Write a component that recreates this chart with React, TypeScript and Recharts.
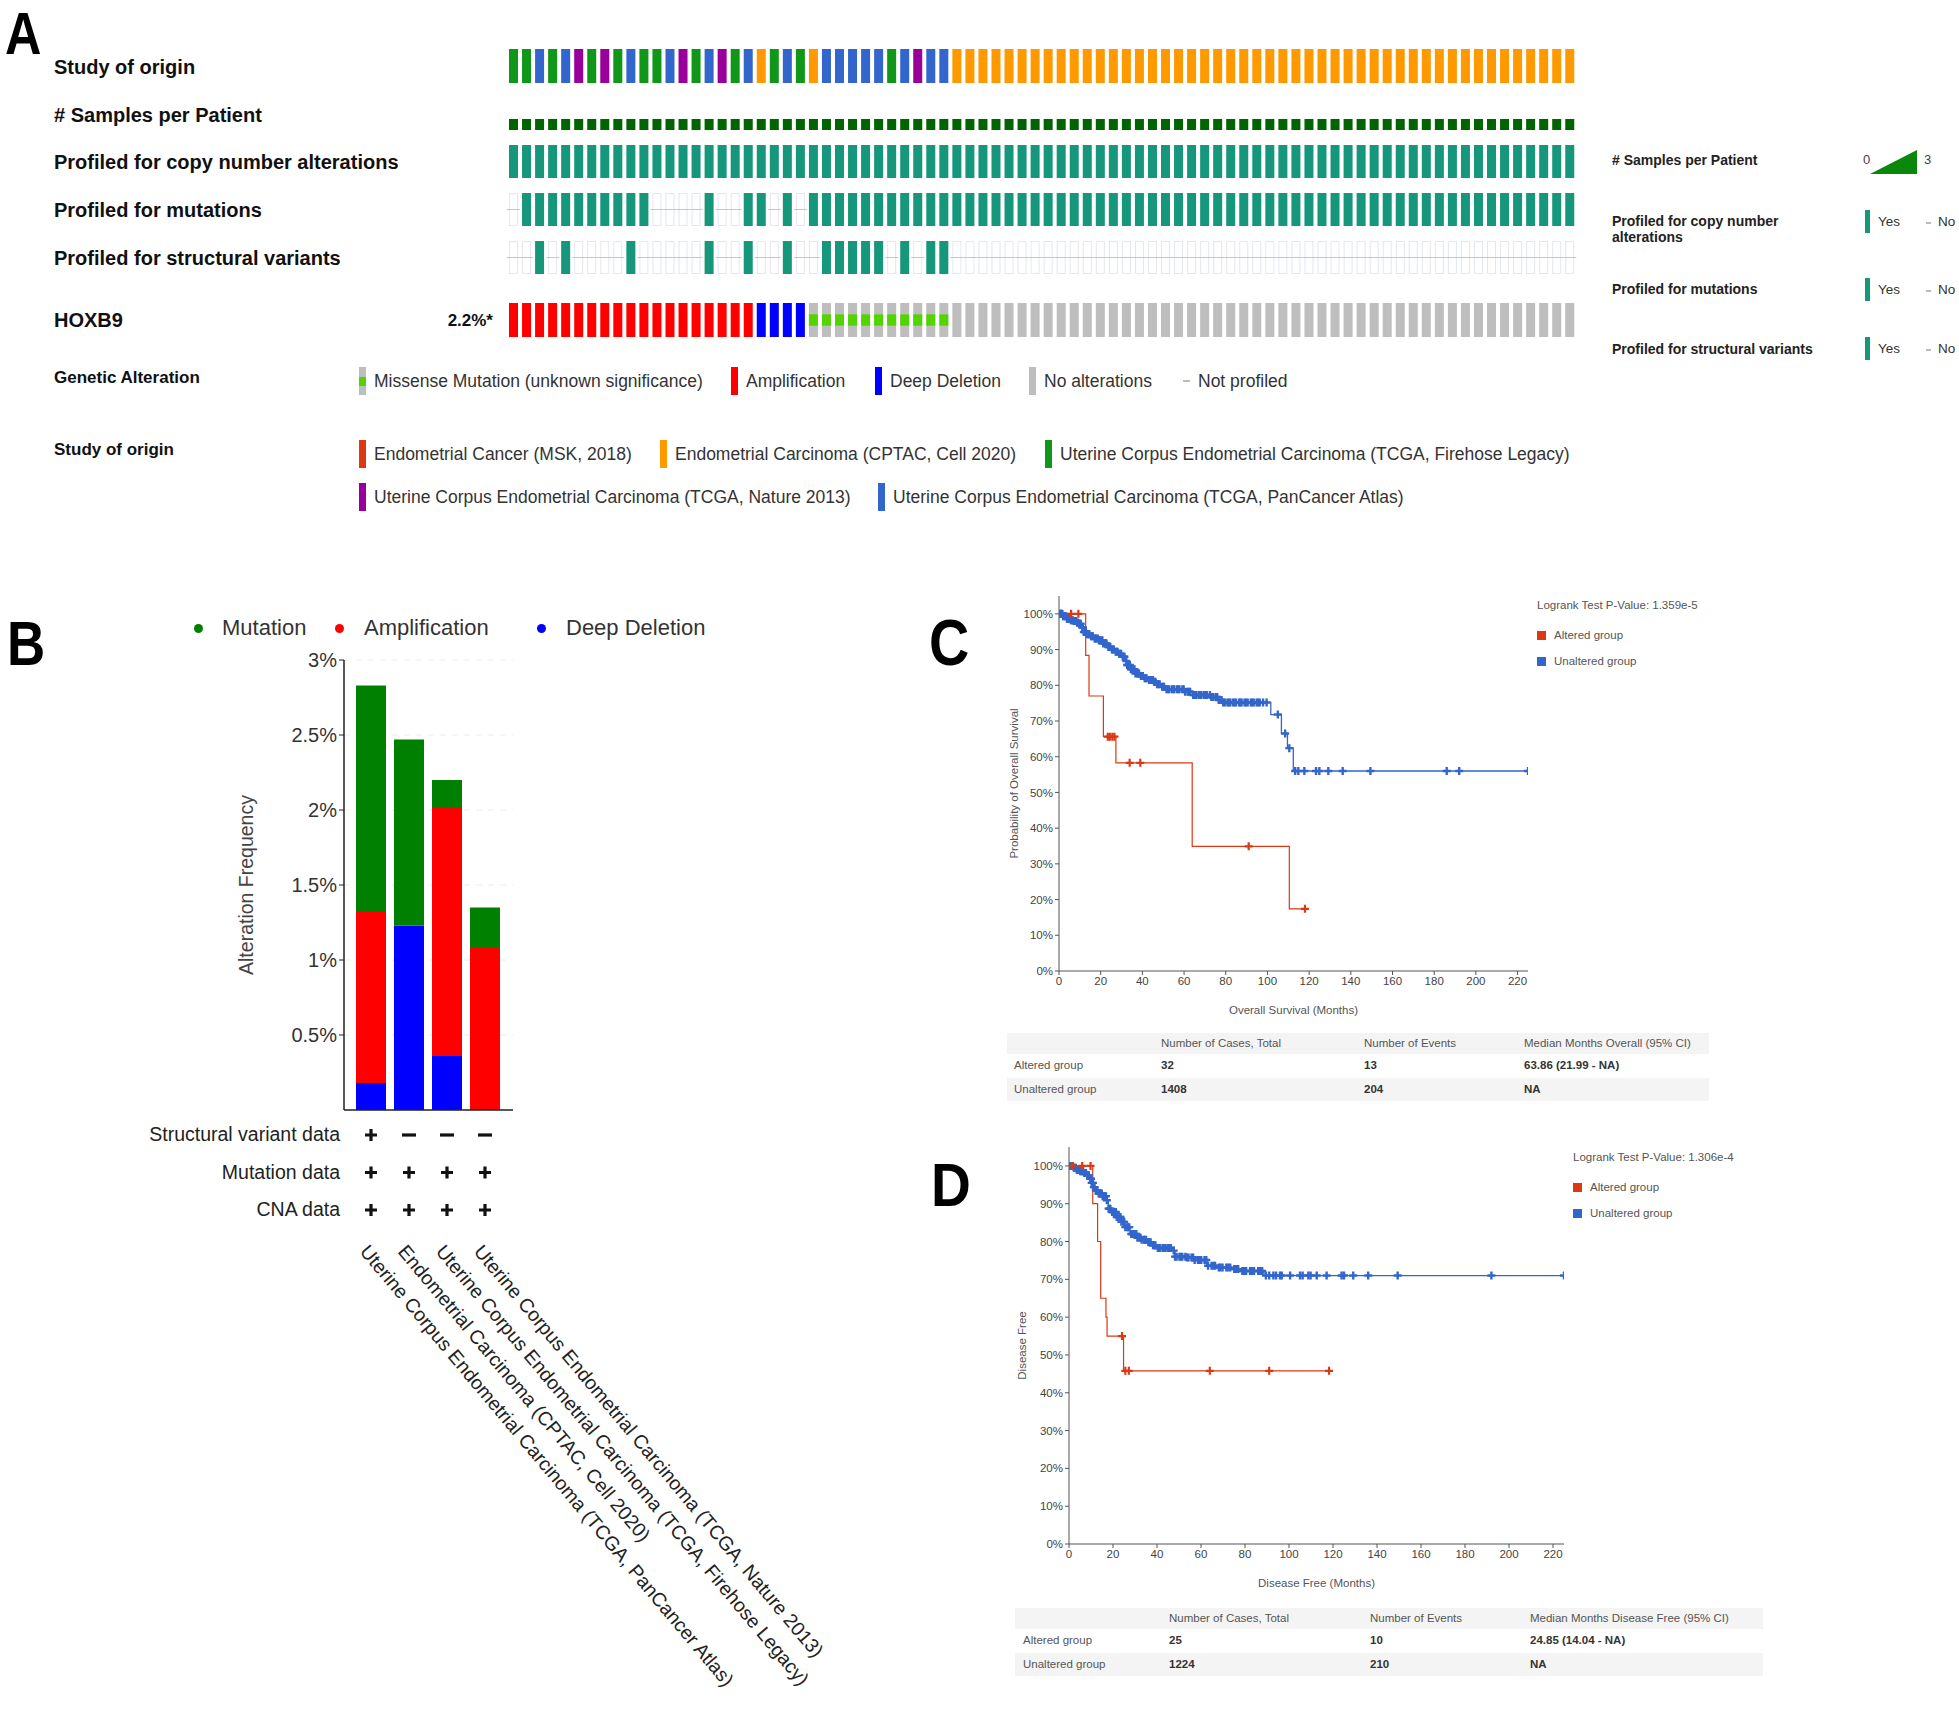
import React from 'react';
import { BarChart, Bar, XAxis, YAxis, CartesianGrid, ComposedChart, Line, Scatter } from 'recharts';

const FONT = '"Liberation Sans", Arial, Helvetica, sans-serif';

// ---------- A: oncoprint (82 columns, written in groups of 10) ----------
const studyOfOrigin = ['GGBGBPGPGB', 'GGBPGBPGBO', 'GBGOBBBBBG', 'BPBBOOOOOO', 'OOOOOOOOOO', 'OOOOOOOOOO', 'OOOOOOOOOO', 'OOOOOOOOOO', 'OO'].join('').split('');
const samplesPerPatient = ['1111111111', '1111111111', '1111111111', '1111111111', '1111111111', '1111111111', '1111111111', '1111111111', '11'].join('').split('');
const cnaProfiled = ['YYYYYYYYYY', 'YYYYYYYYYY', 'YYYYYYYYYY', 'YYYYYYYYYY', 'YYYYYYYYYY', 'YYYYYYYYYY', 'YYYYYYYYYY', 'YYYYYYYYYY', 'YY'].join('').split('');
const mutProfiled = ['NYYYYYYYYY', 'YNNNNYNNYY', 'NYNYYYYYYY', 'YYYYYYYYYY', 'YYYYYYYYYY', 'YYYYYYYYYY', 'YYYYYYYYYY', 'YYYYYYYYYY', 'YY'].join('').split('');
const svProfiled = ['NNYNYNNNNY', 'NNNNNYNNYN', 'NYNNYYYYYN', 'YNYYNNNNNN', 'NNNNNNNNNN', 'NNNNNNNNNN', 'NNNNNNNNNN', 'NNNNNNNNNN', 'NN'].join('').split('');
// A = amplification, D = deep deletion, M = missense (unknown significance), - = no alteration
const hoxb9 = ['AAAAAAAAAA', 'AAAAAAAAAD', 'DDDMMMMMMM', 'MMMM------', '----------', '----------', '----------', '----------', '--'].join('').split('');

const studyColors: Record<string, string> = { R: '#dc3912', O: '#ff9900', G: '#109618', P: '#990099', B: '#3366cc' };
const TEAL = '#16967a';
const GREY = '#bebebe';

const alterationLegend = [
  { kind: 'missense', label: 'Missense Mutation (unknown significance)', x: 359 },
  { kind: 'amp', label: 'Amplification', x: 731 },
  { kind: 'del', label: 'Deep Deletion', x: 875 },
  { kind: 'none', label: 'No alterations', x: 1029 },
  { kind: 'np', label: 'Not profiled', x: 1183 },
];
const studyLegend = [
  { code: 'R', label: 'Endometrial Cancer (MSK, 2018)', x: 359, row: 0 },
  { code: 'O', label: 'Endometrial Carcinoma (CPTAC, Cell 2020)', x: 660, row: 0 },
  { code: 'G', label: 'Uterine Corpus Endometrial Carcinoma (TCGA, Firehose Legacy)', x: 1045, row: 0 },
  { code: 'P', label: 'Uterine Corpus Endometrial Carcinoma (TCGA, Nature 2013)', x: 359, row: 1 },
  { code: 'B', label: 'Uterine Corpus Endometrial Carcinoma (TCGA, PanCancer Atlas)', x: 878, row: 1 },
];

// ---------- B: alteration frequency by study (%) ----------
const bStudies = [
  'Uterine Corpus Endometrial Carcinoma (TCGA, PanCancer Atlas)',
  'Endometrial Carcinoma (CPTAC, Cell 2020)',
  'Uterine Corpus Endometrial Carcinoma (TCGA, Firehose Legacy)',
  'Uterine Corpus Endometrial Carcinoma (TCGA, Nature 2013)',
];
const bDeepDeletion = [0.18, 1.23, 0.36, 0];
const bAmplification = [1.14, 0, 1.66, 1.08];
const bMutation = [1.51, 1.24, 0.18, 0.27];
const bSvData = ['+', '-', '-', '-'];
const bMutData = ['+', '+', '+', '+'];
const bCnaData = ['+', '+', '+', '+'];
const bTicks = [0.5, 1, 1.5, 2, 2.5, 3];

// ---------- C: overall survival ----------
const osAltered = [[0, 100], [12.8, 88.4], [14.4, 77], [21.3, 65.6], [27.3, 58.3], [63.9, 34.9], [110.5, 17.4], [118, 17.4]];
const osAlteredCensor = [5.8, 9.3, 23.4, 24.4, 25.6, 26.6, 33.9, 39, 91, 118];
const osUnaltered = [[0, 100], [2, 99.3], [3.7, 98.6], [5.5, 98.2], [6.9, 98], [8.5, 97.5], [9.3, 97.2], [10.5, 96.2], [11.7, 94.9], [13, 94.3], [14.9, 93.7], [17, 93.1], [18.9, 92.6], [21, 91.7], [23, 90.7], [25, 90], [27, 89.4], [28.5, 88.8], [30.2, 88], [31.5, 86.8], [32.6, 85.7], [34.5, 84.5], [36.6, 83.3], [38.5, 82.6], [40.6, 82], [43, 81.5], [45.4, 81], [47, 80.3], [48.6, 79.6], [51, 78.9], [59.9, 78.2], [63.1, 77.3], [72.7, 76.7], [76, 75.9], [78.3, 75.2], [101.6, 71.8], [106.7, 66.5], [109.6, 62.4], [112.4, 56], [225, 56]];
const osUnalteredCensor = [0.4, 0.8, 1.1, 1.6, 2, 2.3, 2.9, 3.4, 3.8, 4.2, 4.8, 5.3, 5.7, 6.1, 6.6, 7.1, 7.4, 7.9, 8.3, 8.7, 9.1, 9.8, 10.1, 10.4, 11.2, 11.5, 11.9, 12.5, 12.9, 13.3, 13.9, 14.3, 14.6, 15.4, 15.8, 16.2, 17.1, 17.5, 17.8, 18.6, 19.1, 19.5, 20.3, 20.8, 21.2, 22.1, 22.5, 22.8, 23.7, 24.2, 24.6, 25.4, 25.9, 26.3, 27.2, 27.7, 28.1, 28.9, 29.3, 29.8, 30.6, 31, 31.4, 32.3, 32.7, 33.1, 34, 34.5, 34.9, 35.8, 36.2, 36.7, 37.5, 38, 38.4, 39.3, 39.8, 40.2, 41.1, 41.6, 42, 43.2, 43.6, 44.1, 45, 45.6, 46.2, 47.1, 47.7, 48.3, 49.5, 50, 50.4, 51.6, 52.2, 52.8, 54.1, 54.7, 55.3, 56.6, 57.2, 57.8, 59.2, 59.8, 60.5, 61.7, 62.3, 62.9, 64.4, 65.1, 65.8, 67, 67.7, 68.3, 69.6, 70.3, 70.9, 72.4, 73.1, 73.8, 75.1, 75.9, 76.6, 78, 78.8, 79.5, 80.8, 81.5, 82.2, 83.5, 84.2, 84.9, 86.4, 87, 87.6, 89, 89.8, 90.5, 92, 92.7, 93.4, 94.8, 95.5, 96.3, 97.9, 99.6, 105, 108.5, 110.5, 113.3, 114.8, 117.7, 123.3, 124.9, 129.2, 136.1, 149.4, 186, 192, 225];

// ---------- D: disease free ----------
const dfsAltered = [[0, 100], [10.8, 90], [13, 80], [14.4, 65], [16.8, 60], [17.3, 55], [24.8, 45.8], [118, 45.8]];
const dfsAlteredCensor = [1.5, 6, 9.8, 24.1, 25.6, 27.2, 64, 91, 118.2];
const dfsUnaltered = [[0, 100], [2, 99.5], [3.5, 99], [5, 98.6], [6.5, 98.1], [8, 97.5], [9.5, 96.6], [10.2, 95.5], [11, 94.4], [12, 93.5], [13.3, 92.7], [15, 92], [17.1, 90.9], [17.9, 88.7], [19.5, 87.8], [21.7, 86.5], [23.5, 85.2], [25.4, 83.8], [27.7, 82], [30.8, 81], [33, 80.5], [35.3, 79.8], [37.5, 79], [39.8, 78.3], [47.4, 77.6], [48.2, 76], [53.5, 75.8], [56.5, 75.1], [62.6, 73.6], [67.1, 73.1], [74.7, 72.7], [77, 72.2], [88.6, 71], [225, 71]];
const dfsUnalteredCensor = [0.5, 0.9, 1.2, 1.8, 2.2, 2.5, 3.1, 3.5, 3.8, 4.4, 4.8, 5.1, 5.7, 6.1, 6.4, 7, 7.4, 7.7, 8.3, 8.7, 9, 9.6, 10, 10.3, 10.9, 11.3, 11.6, 12.2, 12.6, 12.9, 13.5, 13.9, 14.2, 14.9, 15.3, 15.6, 16.4, 16.8, 17.2, 18, 18.4, 18.8, 19.6, 20, 20.4, 21.3, 21.7, 22.1, 23, 23.4, 23.8, 24.7, 25.1, 25.6, 26.5, 26.9, 27.4, 28.3, 28.8, 29.2, 30.1, 30.6, 31.1, 32, 32.5, 33, 34, 34.5, 35, 36.1, 36.6, 37.1, 38.2, 38.7, 39.3, 40.4, 40.9, 41.5, 42.7, 43.3, 43.9, 45.1, 45.7, 46.3, 47.6, 48.2, 48.9, 50.2, 50.8, 51.5, 52.9, 53.6, 54.3, 55.7, 56.4, 57.1, 58.6, 59.3, 60.1, 61.6, 62.4, 63.2, 64.8, 65.6, 66.4, 68.1, 68.9, 69.8, 71.5, 72.4, 73.3, 75.1, 76, 76.9, 78.8, 79.6, 80.5, 82.3, 83.2, 84.1, 86, 86.9, 87.8, 89.5, 91, 92.9, 94.1, 95.9, 96.7, 100.5, 105, 106.2, 108.8, 109.8, 112.6, 117.1, 123.9, 125, 129.2, 136, 149.4, 192, 225];

const kmMonthTicks = [0, 20, 40, 60, 80, 100, 120, 140, 160, 180, 200, 220];
const kmPctTicks = [0, 10, 20, 30, 40, 50, 60, 70, 80, 90, 100];
const groupNames = ['Altered group', 'Unaltered group'];
const groupColors = ['#dc3912', '#3366cc'];
const tableHeaderC = ['', 'Number of Cases, Total', 'Number of Events', 'Median Months Overall (95% CI)'];
const tableRowsC = [['Altered group', '32', '13', '63.86 (21.99 - NA)'], ['Unaltered group', '1408', '204', 'NA']];
const tableHeaderD = ['', 'Number of Cases, Total', 'Number of Events', 'Median Months Disease Free (95% CI)'];
const tableRowsD = [['Altered group', '25', '10', '24.85 (14.04 - NA)'], ['Unaltered group', '1224', '210', 'NA']];

function stepAt(steps: number[][], t: number) {
  let s = steps[0][1];
  for (const [ti, si] of steps) {
    if (ti <= t) s = si;
    else break;
  }
  return s;
}

function Txt({ x, y, size, bold = false, color = '#222', anchor = 'start', children }: any) {
  const tx = anchor === 'end' ? '-100%' : anchor === 'middle' ? '-50%' : '0';
  return (
    <div
      style={{
        position: 'absolute', left: x, top: y, transform: `translate(${tx},-50%)`,
        fontSize: size, fontWeight: bold ? 700 : 400, color, whiteSpace: 'nowrap',
        lineHeight: 1, fontFamily: FONT,
      }}
    >
      {children}
    </div>
  );
}

function PanelLabel({ x, capTop, size, sx, text }: any) {
  return (
    <div
      style={{
        position: 'absolute', left: x, top: capTop - 0.1305 * size, fontSize: size, fontWeight: 700,
        lineHeight: 1, fontFamily: FONT, color: '#000', transform: `scaleX(${sx})`, transformOrigin: 'left top',
      }}
    >
      {text}
    </div>
  );
}

// one oncoprint track = one tiny bar chart
function Track({ top, height, cells, kind }: any) {
  const data = cells.map((c: string, i: number) => ({ col: i, v: 1, c }));
  const shape = (p: any) => {
    const c = p.payload ? p.payload.c : p.c;
    const { x, y, width, height: h } = p;
    if (kind === 'study') return <rect x={x} y={y} width={width} height={h} fill={studyColors[c]} />;
    if (kind === 'samples') return <rect x={x} y={y} width={width} height={h} fill="#006400" />;
    if (kind === 'profiled') {
      if (c === 'Y') return <rect x={x} y={y} width={width} height={h} fill={TEAL} />;
      return (
        <g>
          <rect x={x + 0.5} y={y + 0.5} width={width - 1} height={h - 1} fill="none" stroke="#e3e8ee" strokeWidth={1} />
          <line x1={x - 2} x2={x + width + 2} y1={y + h / 2} y2={y + h / 2} stroke="#c6c6c6" strokeWidth={1} />
        </g>
      );
    }
    // genetic alteration
    const fill = c === 'A' ? '#ff0000' : c === 'D' ? '#0000ff' : GREY;
    return (
      <g>
        <rect x={x} y={y} width={width} height={h} fill={fill} />
        {c === 'M' && <rect x={x} y={y + h / 3} width={width} height={h / 3} fill="#53d400" />}
      </g>
    );
  };
  return (
    <div style={{ position: 'absolute', left: 507.3, top }}>
      <BarChart width={1069.3} height={height} data={data} margin={{ top: 0, right: 0, bottom: 0, left: 0 }} barSize={9}>
        <XAxis dataKey="col" hide />
        <YAxis domain={[0, 1]} hide />
        <Bar dataKey="v" isAnimationActive={false} shape={shape} />
      </BarChart>
    </div>
  );
}

function PanelA() {
  const rows = [
    { label: 'Study of origin', y: 67 },
    { label: '# Samples per Patient', y: 115 },
    { label: 'Profiled for copy number alterations', y: 162 },
    { label: 'Profiled for mutations', y: 210 },
    { label: 'Profiled for structural variants', y: 258 },
    { label: 'HOXB9', y: 320 },
  ];
  return (
    <>
      <PanelLabel x={5} capTop={12} size={60} sx={0.84} text="A" />
      {rows.map((r) => (
        <Txt key={r.label} x={54} y={r.y} size={20} bold color="#111">{r.label}</Txt>
      ))}
      <Txt x={493} y={320} size={17} bold anchor="end" color="#111">2.2%*</Txt>
      <Track top={49} height={34} cells={studyOfOrigin} kind="study" />
      <Track top={119} height={11} cells={samplesPerPatient} kind="samples" />
      <Track top={145} height={33} cells={cnaProfiled} kind="profiled" />
      <Track top={193} height={33} cells={mutProfiled} kind="profiled" />
      <Track top={241} height={33} cells={svProfiled} kind="profiled" />
      <Track top={303} height={34} cells={hoxb9} kind="alt" />

      {/* legends under the oncoprint */}
      <Txt x={54} y={377} size={17} bold color="#111">Genetic Alteration</Txt>
      {alterationLegend.map((it) => (
        <React.Fragment key={it.label}>
          {it.kind === 'np' ? (
            <div style={{ position: 'absolute', left: it.x, top: 380, width: 7, height: 1.5, background: '#bdbdbd' }} />
          ) : (
            <div style={{ position: 'absolute', left: it.x, top: 367, width: 7, height: 28, background: it.kind === 'amp' ? '#ff0000' : it.kind === 'del' ? '#0000ff' : GREY }}>
              {it.kind === 'missense' && <div style={{ position: 'absolute', left: 0, top: 9.5, width: 7, height: 9.5, background: '#53d400' }} />}
            </div>
          )}
          <Txt x={it.x + 15} y={382} size={17.5} color="#333">{it.label}</Txt>
        </React.Fragment>
      ))}
      <Txt x={54} y={449} size={17} bold color="#111">Study of origin</Txt>
      {studyLegend.map((it) => (
        <React.Fragment key={it.label}>
          <div style={{ position: 'absolute', left: it.x, top: 440 + it.row * 43, width: 7, height: 28, background: studyColors[it.code] }} />
          <Txt x={it.x + 15} y={455 + it.row * 43} size={17.5} color="#333">{it.label}</Txt>
        </React.Fragment>
      ))}

      {/* right legend */}
      <Txt x={1612} y={160} size={14} bold color="#222"># Samples per Patient</Txt>
      <Txt x={1863} y={159} size={13} color="#444">0</Txt>
      <svg style={{ position: 'absolute', left: 1868, top: 148 }} width={52} height={28}>
        <polygon points="2,26 49,26 49,2" fill="#0b870b" />
      </svg>
      <Txt x={1924} y={159} size={13} color="#444">3</Txt>
      <Txt x={1612} y={221} size={14} bold color="#222">Profiled for copy number</Txt>
      <Txt x={1612} y={237} size={14} bold color="#222">alterations</Txt>
      <Txt x={1612} y={289} size={14} bold color="#222">Profiled for mutations</Txt>
      <Txt x={1612} y={349} size={14} bold color="#222">Profiled for structural variants</Txt>
      {[222, 290, 349].map((y) => (
        <React.Fragment key={y}>
          <div style={{ position: 'absolute', left: 1865, top: y - 12, width: 5, height: 23, background: TEAL }} />
          <Txt x={1878} y={y} size={13.5} color="#333">Yes</Txt>
          <div style={{ position: 'absolute', left: 1926, top: y, width: 5, height: 1.5, background: '#bbb' }} />
          <Txt x={1938} y={y} size={13.5} color="#333">No</Txt>
        </React.Fragment>
      ))}
    </>
  );
}

function Sym({ x, y, kind }: any) {
  const d = kind === '+' ? `M${x - 6},${y} H${x + 6} M${x},${y - 6} V${y + 6}` : `M${x - 7},${y} H${x + 7}`;
  return <path d={d} stroke="#111" strokeWidth={3.2} fill="none" />;
}

function StudyTick(props: any) {
  const { x, y, payload } = props;
  const i = payload.index;
  const lx = x - 12;
  const ly = y + 142;
  return (
    <g>
      <Sym x={x} y={y + 25} kind={bSvData[i]} />
      <Sym x={x} y={y + 62.5} kind={bMutData[i]} />
      <Sym x={x} y={y + 100} kind={bCnaData[i]} />
      <text x={lx} y={ly} transform={`rotate(50 ${lx} ${ly})`} fontSize={19.5} fill="#222" fontFamily={FONT}>
        {payload.value}
      </text>
    </g>
  );
}

function PanelB() {
  const data = bStudies.map((s, i) => ({ study: s, deep: bDeepDeletion[i], amp: bAmplification[i], mut: bMutation[i] }));
  const legend = [
    { label: 'Mutation', color: '#008000', dot: 198, text: 222 },
    { label: 'Amplification', color: '#ff0000', dot: 339, text: 364 },
    { label: 'Deep Deletion', color: '#0000ff', dot: 541, text: 566 },
  ];
  return (
    <>
      <PanelLabel x={7} capTop={620} size={63} sx={0.84} text="B" />
      {legend.map((l) => (
        <React.Fragment key={l.label}>
          <div style={{ position: 'absolute', left: l.dot - 4.5, top: 624, width: 9, height: 9, borderRadius: 5, background: l.color }} />
          <Txt x={l.text} y={628} size={22} color="#333">{l.label}</Txt>
        </React.Fragment>
      ))}
      <div style={{ position: 'absolute', left: 200, top: 640 }}>
        <BarChart width={660} height={1074} data={data} margin={{ top: 20, right: 347, bottom: 4, left: 0 }} barSize={30}>
          <CartesianGrid vertical={false} stroke="#ececec" strokeDasharray="6 6" />
          <XAxis
            dataKey="study" interval={0} tickLine={false} tickSize={0} tickMargin={0} height={600}
            axisLine={{ stroke: '#222', strokeWidth: 1.5 }} padding={{ left: 8, right: 9 }} tick={<StudyTick />}
          />
          <YAxis
            type="number" domain={[0, 3]} ticks={bTicks} width={144} tickSize={5}
            tickFormatter={(v: number) => `${v}%`} axisLine={{ stroke: '#222', strokeWidth: 1.5 }} tickLine={{ stroke: '#222' }}
            tick={{ fontSize: 20, fill: '#333', fontFamily: FONT }}
            label={{ value: 'Alteration Frequency', angle: -90, position: 'insideLeft', offset: 46, style: { textAnchor: 'middle', fontSize: 19.5, fill: '#444', fontFamily: FONT } }}
          />
          <Bar dataKey="deep" stackId="a" fill="#0000ff" isAnimationActive={false} />
          <Bar dataKey="amp" stackId="a" fill="#ff0000" isAnimationActive={false} />
          <Bar dataKey="mut" stackId="a" fill="#008000" isAnimationActive={false} />
        </BarChart>
      </div>
      {['Structural variant data', 'Mutation data', 'CNA data'].map((t, i) => (
        <Txt key={t} x={340} y={1135 + i * 37.5} size={19.5} anchor="end" color="#222">{t}</Txt>
      ))}
    </>
  );
}

const plusShape = (color: string, arm: number, sw: number) => (p: any) => (
  <path d={`M${p.cx - arm},${p.cy} H${p.cx + arm} M${p.cx},${p.cy - arm} V${p.cy + arm}`} stroke={color} strokeWidth={sw} fill="none" />
);

function KMChart({ left, top, width, height, marginTop, altered, alteredCensor, unaltered, unalteredCensor, xLabel, yLabel, yOffset }: any) {
  const toPts = (steps: number[][]) => steps.map(([t, s]) => ({ t, s }));
  const marks = (steps: number[][], cens: number[]) => cens.map((t) => ({ t, s: stepAt(steps, t) }));
  const axisStyle = { fontSize: 11.5, fill: '#444', fontFamily: FONT };
  return (
    <div style={{ position: 'absolute', left, top }}>
      <ComposedChart width={width} height={height} margin={{ top: marginTop, right: 10, bottom: 14, left: 0 }}>
        <XAxis
          type="number" dataKey="t" domain={[0, 225]} ticks={kmMonthTicks} height={45} tickSize={4}
          allowDataOverflow stroke="#555" tick={axisStyle}
          label={{ value: xLabel, position: 'insideBottom', offset: 2, style: { fontSize: 11.5, fill: '#555', fontFamily: FONT } }}
        />
        <YAxis
          type="number" dataKey="s" domain={[0, 105]} ticks={kmPctTicks} width={69} tickSize={4}
          allowDataOverflow stroke="#555" tick={axisStyle} tickFormatter={(v: number) => `${v}%`}
          label={{ value: yLabel, angle: -90, position: 'insideLeft', offset: yOffset, style: { textAnchor: 'middle', fontSize: 11.5, fill: '#555', fontFamily: FONT } }}
        />
        <Line data={toPts(unaltered)} dataKey="s" type="stepAfter" stroke={groupColors[1]} strokeWidth={1.3} dot={false} isAnimationActive={false} />
        <Line data={toPts(altered)} dataKey="s" type="stepAfter" stroke={groupColors[0]} strokeWidth={1.2} dot={false} isAnimationActive={false} />
        <Scatter data={marks(unaltered, unalteredCensor)} shape={plusShape(groupColors[1], 4, 2.4)} isAnimationActive={false} />
        <Scatter data={marks(altered, alteredCensor)} shape={plusShape(groupColors[0], 4, 2.2)} isAnimationActive={false} />
      </ComposedChart>
    </div>
  );
}

function KMLegend({ x, y, pValue }: any) {
  return (
    <>
      <Txt x={x} y={y} size={11.5} color="#555">{pValue}</Txt>
      {groupNames.map((g, i) => (
        <React.Fragment key={g}>
          <div style={{ position: 'absolute', left: x, top: y + 25 + i * 26, width: 8.5, height: 8.5, background: groupColors[i] }} />
          <Txt x={x + 17} y={y + 29.5 + i * 26} size={11.5} color="#555">{g}</Txt>
        </React.Fragment>
      ))}
    </>
  );
}

function KMTable({ left, top, width, header, rows, cols }: any) {
  const heights = [21, 24, 23];
  const all = [header, ...rows];
  let y = top;
  return (
    <>
      {all.map((r: string[], ri: number) => {
        const rowTop = y;
        y += heights[ri];
        return (
          <div key={ri} style={{ position: 'absolute', left, top: rowTop, width, height: heights[ri], background: ri === 1 ? '#ffffff' : '#f4f4f4' }}>
            {r.map((c, ci) => (
              <div
                key={ci}
                style={{
                  position: 'absolute', left: cols[ci] - left, top: heights[ri] / 2, transform: 'translateY(-50%)',
                  fontSize: 11.5, lineHeight: 1, whiteSpace: 'nowrap', fontFamily: FONT,
                  fontWeight: ri > 0 && ci > 0 ? 700 : 400, color: ri > 0 && ci > 0 ? '#333' : '#555',
                }}
              >
                {c}
              </div>
            ))}
          </div>
        );
      })}
    </>
  );
}

function PanelCD() {
  return (
    <>
      <PanelLabel x={929} capTop={619} size={64} sx={0.87} text="C" />
      <KMChart
        left={990} top={580} width={548} height={450} marginTop={16}
        altered={osAltered} alteredCensor={osAlteredCensor} unaltered={osUnaltered} unalteredCensor={osUnalteredCensor}
        xLabel="Overall Survival (Months)" yLabel="Probability of Overall Survival" yOffset={24}
      />
      <KMLegend x={1537} y={606} pValue="Logrank Test P-Value: 1.359e-5" />
      <KMTable left={1007} top={1033} width={702} header={tableHeaderC} rows={tableRowsC} cols={[1014, 1161, 1364, 1524]} />

      <PanelLabel x={931} capTop={1162} size={62} sx={0.89} text="D" />
      <KMChart
        left={1000} top={1130} width={574} height={473} marginTop={17}
        altered={dfsAltered} alteredCensor={dfsAlteredCensor} unaltered={dfsUnaltered} unalteredCensor={dfsUnalteredCensor}
        xLabel="Disease Free (Months)" yLabel="Disease Free" yOffset={22}
      />
      <KMLegend x={1573} y={1158} pValue="Logrank Test P-Value: 1.306e-4" />
      <KMTable left={1015} top={1608} width={748} header={tableHeaderD} rows={tableRowsD} cols={[1023, 1169, 1370, 1530]} />
    </>
  );
}

export default function App() {
  return (
    <div style={{ position: 'absolute', left: 0, top: 0, width: 1959, height: 1714, background: '#fff', overflow: 'hidden', fontFamily: FONT }}>
      <PanelA />
      <PanelB />
      <PanelCD />
    </div>
  );
}
